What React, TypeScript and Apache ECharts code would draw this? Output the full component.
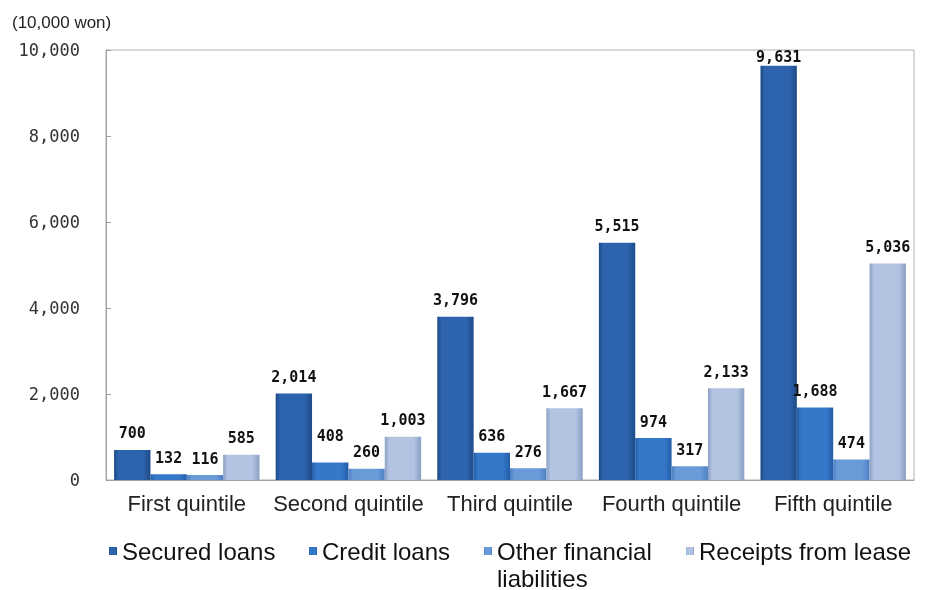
import React, { useEffect, useRef } from "react";
import * as echarts from "echarts";

const categories = ["First quintile", "Second quintile", "Third quintile", "Fourth quintile", "Fifth quintile"];
const securedLoans = [700, 2014, 3796, 5515, 9631];
const creditLoans = [132, 408, 636, 974, 1688];
const otherFinancial = [116, 260, 276, 317, 474];
const receiptsLease = [585, 1003, 1667, 2133, 5036];
const seriesNames = ["Secured loans", "Credit loans", "Other financial liabilities", "Receipts from lease"];
const yTicks = [0, 2000, 4000, 6000, 8000, 10000];

const grad = (edge: string, mid: string) =>
  new echarts.graphic.LinearGradient(0, 0, 1, 0, [
    { offset: 0, color: edge },
    { offset: 0.12, color: mid },
    { offset: 0.8, color: mid },
    { offset: 1, color: edge },
  ]);

const colors = [
  ["#1d4a86", "#2d64ad"],
  ["#225ea8", "#3577c9"],
  ["#4d7fc2", "#6a9ad8"],
  ["#8a9fc4", "#b3c4e2"],
];

export default function App() {
  const ref = useRef<HTMLDivElement>(null);
  useEffect(() => {
    if (!ref.current) return;
    const chart = echarts.init(ref.current, null, { renderer: "svg" });
    const fmt = (v: number) => v.toLocaleString("en-US");
    const labelStyle = {
      show: true,
      position: "top" as const,
      distance: 9,
      fontFamily: "DejaVu Sans Mono",
      fontWeight: "bold" as const,
      fontSize: 15,
      color: "#111",
      formatter: (p: any) => fmt(p.value),
    };
    const datasets = [securedLoans, creditLoans, otherFinancial, receiptsLease];
    const series = datasets.map((d, i) => ({
      name: seriesNames[i],
      type: "bar",
      barGap: "0%",
      barCategoryGap: "10%",
      itemStyle: { color: grad(colors[i][0], colors[i][1]) },
      label: labelStyle,
      data: d.map((v, j) => {
        if (i === 1 && j === 1) return { value: v, label: { offset: [0, -10] } };
        if (i === 0 && j === 4) return { value: v, label: { offset: [0, 8] } };
        return v;
      }),
    }));
    const legendLefts = [109, 309, 484, 686];
    const legends = seriesNames.map((n, i) => ({
      data: [n],
      left: legendLefts[i],
      top: 539,
      padding: 0,
      icon: "rect",
      itemWidth: 8,
      itemHeight: 8,
      formatter: (name: string) => (name === "Other financial liabilities" ? "Other financial" : name),
      textStyle: { fontFamily: "Liberation Sans", fontSize: 24, color: "#111" },
      selectedMode: false,
    }));
    chart.setOption({
      animation: false,
      title: {
        text: "(10,000 won)",
        left: 7,
        top: 9,
        textStyle: { fontFamily: "Liberation Sans", fontSize: 17, fontWeight: "normal", color: "#222" },
      },
      legend: legends,
      graphic: [
        {
          type: "text",
          left: 497,
          top: 566,
          style: { text: "liabilities", font: "24px 'Liberation Sans'", fill: "#111" },
        },
      ],
      grid: {
        left: 106,
        right: 13,
        top: 50,
        bottom: 110,
        show: true,
        borderColor: "#b0b0b0",
        borderWidth: 1,
      },
      xAxis: {
        type: "category",
        data: categories,
        axisLine: { lineStyle: { color: "#a0a0a0" } },
        axisTick: { show: false },
        axisLabel: { interval: 0, fontFamily: "Liberation Sans", fontSize: 22, color: "#222", margin: 12 },
      },
      yAxis: {
        type: "value",
        min: yTicks[0],
        max: yTicks[yTicks.length - 1],
        interval: 2000,
        axisLine: { show: true, lineStyle: { color: "#a0a0a0" } },
        axisTick: { show: true, inside: true, length: 5, lineStyle: { color: "#a0a0a0" } },
        splitLine: { show: false },
        axisLabel: {
          fontFamily: "DejaVu Sans Mono",
          fontSize: 17,
          color: "#333",
          margin: 26,
          formatter: (v: number) => fmt(v),
        },
      },
      series,
    });
    return () => chart.dispose();
  }, []);
  return <div ref={ref} style={{ position: "fixed", left: 0, top: 0, width: 927, height: 590 }} />;
}
